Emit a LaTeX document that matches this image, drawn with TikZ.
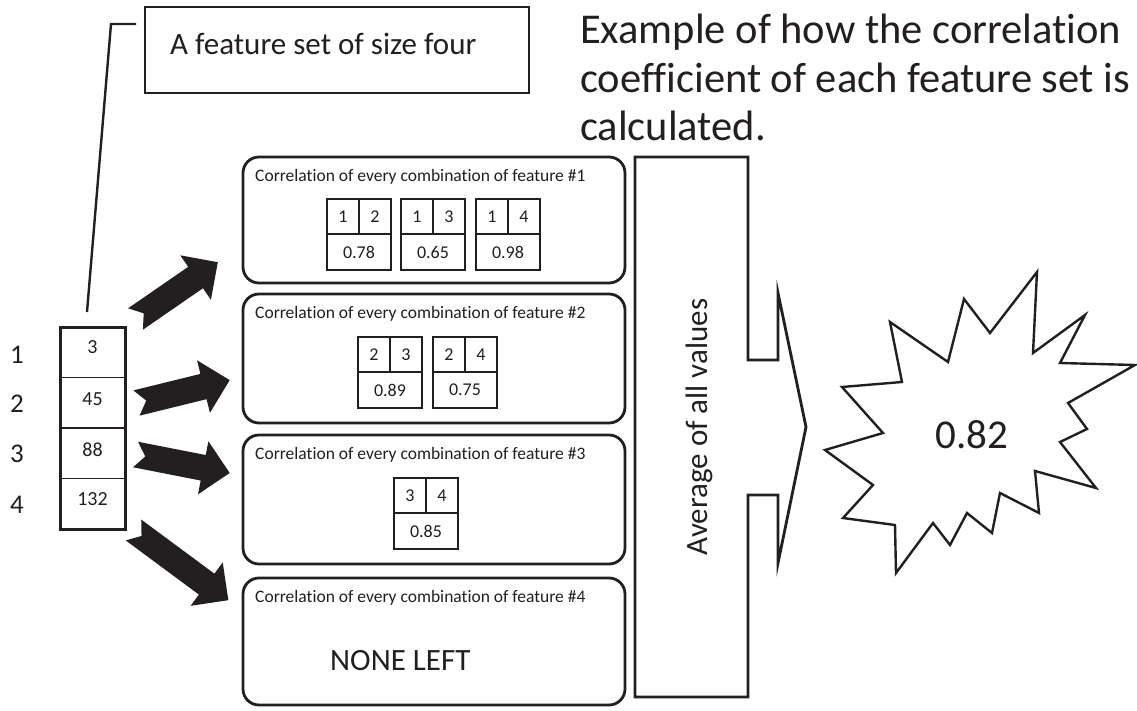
\documentclass[tikz,border=0pt]{standalone}
\usepackage{fontspec}
\setmainfont{Carlito}[RawFeature={-liga;-dlig}]
\definecolor{ink}{RGB}{35,31,32}
\newcommand{\pairbox}[6]{%
  \node[pcell, minimum width=32pt, minimum height=35pt] (#1a) at (#2,#3) {#4};
  \node[pcell, minimum width=32pt, minimum height=35pt] (#1b) at (#1a.north east) {#5};
  \node[pcell, minimum width=64pt, minimum height=36pt] (#1v) at (#1a.south west) {#6};
}
\begin{document}
\begin{tikzpicture}[x=1pt,y=-1pt,
  every node/.style={text=ink},
  frame/.style={draw=ink, line width=2.6pt, anchor=north west, inner sep=0pt, outer sep=0pt},
  corrbox/.style={draw=ink, line width=2.8pt, rounded corners=16pt, anchor=north west, inner sep=0pt, outer sep=0pt, minimum width=382pt},
  caption/.style={anchor=base west, inner sep=0pt, font=\fontsize{17.5}{21}\selectfont},
  pcell/.style={draw=ink, line width=1.1pt, anchor=north west, inner sep=0pt, outer sep=0pt, font=\fontsize{18}{21}\selectfont},
  fcell/.style={draw=ink, line width=1.3pt, anchor=north west, inner sep=0pt, outer sep=0pt, minimum width=65pt, minimum height=50.5pt},
  fval/.style={anchor=base, inner sep=0pt, font=\fontsize{20}{24}\selectfont},
  rowlab/.style={anchor=base, inner sep=0pt, font=\fontsize{27}{32}\selectfont},
  bigtext/.style={inner sep=0pt, font=\fontsize{31}{36}\selectfont},
  titletext/.style={anchor=base west, inner sep=0pt, font=\fontsize{42.5}{48}\selectfont},
  outline/.style={draw=ink, line width=2.6pt, line join=miter},
  pics/barrow/.style={code={\fill[ink] (0,13) -- ({#1-27},13) -- ({#1-27},27) -- (#1,0) -- ({#1-27},-27) -- ({#1-27},-13) -- (0,-13) -- (10,0) -- cycle;}}
]
\fill[white] (0,0) rectangle (1137,711);
\useasboundingbox (0,0) rectangle (1137,711);

% title
\node[titletext] (t1) at (580,44) {Example of how the correlation};
\node[titletext] (t2) at (580,93) {coefficient of each feature set is};
\node[titletext] (t3) at (580,141) {calculated.};

% callout label
\node[frame, minimum width=384pt, minimum height=86pt] (lab) at (145,7) {};
\node[bigtext, anchor=base west] (labt) at (170,55) {A feature set of size four};
\coordinate (k1) at (136,24);
\coordinate (k2) at (111,24);
\coordinate (k3) at (87,312);
\draw[draw=ink, line width=2.4pt, line join=miter] (k1) -- (k2) -- (k3);

% feature column
\node[fcell] (f1) at (60,327) {};
\node[fcell] (f2) at (f1.south west) {};
\node[fcell] (f3) at (f2.south west) {};
\node[fcell] (f4) at (f3.south west) {};
\draw[draw=ink, line width=3pt] (f1.north west) rectangle (f4.south east);
\node[fval] (v1) at (92.5,353) {3};
\node[fval] (v2) at (92.5,405) {45};
\node[fval] (v3) at (92.5,456) {88};
\node[fval] (v4) at (92.5,505) {132};
\node[rowlab] (r1) at (17,363) {1};
\node[rowlab] (r2) at (17,412) {2};
\node[rowlab] (r3) at (17,462) {3};
\node[rowlab] (r4) at (17,513) {4};

% block arrows
\pic[rotate=34.6] at (135.5,319) {barrow=100};
\pic[rotate=13.8] at (136.5,403) {barrow=96};
\pic[rotate=-11.1] at (135.5,454.5) {barrow=96};
\pic[rotate=-36.5] at (133.5,530) {barrow=118};

% correlation boxes
\node[corrbox, minimum height=126pt] (b1) at (243,157) {};
\node[corrbox, minimum height=129pt] (b2) at (243,294) {};
\node[corrbox, minimum height=129pt] (b3) at (243,435) {};
\node[corrbox, minimum height=127pt] (b4) at (243,578) {};
\node[caption] (c1) at (255,182) {Correlation of every combination of feature \#1};
\node[caption] (c2) at (255,318) {Correlation of every combination of feature \#2};
\node[caption] (c3) at (255,459) {Correlation of every combination of feature \#3};
\node[caption] (c4) at (255,602) {Correlation of every combination of feature \#4};

\pairbox{p12}{327}{199}{1}{2}{0.78}
\pairbox{p13}{401}{199}{1}{3}{0.65}
\pairbox{p14}{476}{199}{1}{4}{0.98}
\pairbox{p23}{358}{337}{2}{3}{0.89}
\pairbox{p24}{433}{337}{2}{4}{0.75}
\pairbox{p34}{394}{478}{3}{4}{0.85}

\node[bigtext, anchor=base west] (none) at (330,670) {NONE LEFT};

% average bar arrow
\draw[outline, line width=2.8pt] (635,157) -- (748,157) -- (748,360) -- (778,360) -- (778,293) -- (806,427)
  -- (778,563) -- (778,495) -- (748,495) -- (748,697) -- (635,697) -- cycle;
\node[bigtext, rotate=90, anchor=base] (avg) at (707,427) {Average of all values};

% starburst
\draw[outline, line width=2.4pt] (890,322) -- (948,362) -- (964,299) -- (990,333) -- (1037,272) -- (1033,353)
  -- (1085,315) -- (1060,363) -- (1135,365) -- (1068,403) -- (1087,429) -- (1060,442) -- (1096,488)
  -- (1035,471) -- (1039,513) -- (1000,493) -- (992,533) -- (967,513) -- (950,545) -- (933,523)
  -- (896,573) -- (895,525) -- (843,518) -- (873,485) -- (825,450) -- (883,433) -- (842,387)
  -- (902,382) -- cycle;
\node[anchor=base, inner sep=0pt, font=\fontsize{41}{48}\selectfont] (res) at (972,448) {0.82};
\end{tikzpicture}
\end{document}
